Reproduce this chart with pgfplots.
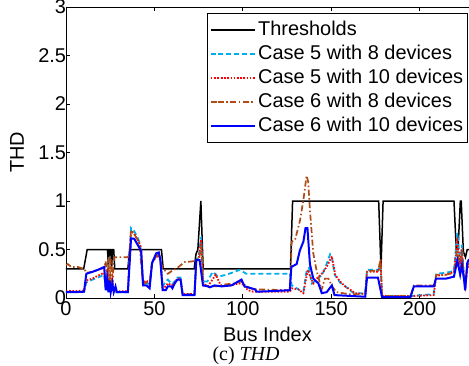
\documentclass[border=0pt]{standalone}
\usepackage{pgfplots}
\pgfplotsset{compat=1.18}
\usepackage{fontspec}
\setmainfont{Liberation Sans}
\newfontfamily\timesfont{Liberation Serif}
\definecolor{mybrown}{RGB}{175,75,20}
\begin{document}
\begin{tikzpicture}
\begin{axis}[
  name=ax,
  scale only axis, width=403bp, height=291bp,
  xmin=0, xmax=228, ymin=0, ymax=3,
  axis y line*=left,
  xtick={0,50,100,150,200},
  ytick={0,0.5,1,1.5,2,2.5,3},
  yticklabels={0,0.5,1,1.5,2,2.5,3},
  tick align=inside, major tick length=4bp,
  every tick/.style={black, line width=0.6bp},
  axis line style={line width=0.8bp},
  tick label style={font=\fontsize{20}{24}\selectfont},
  /pgf/number format/assume math mode=true,
  yticklabel style={xshift=3.5bp},
  xlabel={Bus Index}, ylabel={THD},
  label style={font=\fontsize{20}{24}\selectfont},
  xlabel style={at={(axis description cs:0.5,-0.126)}, anchor=center, inner sep=1bp},
  ylabel style={at={(axis description cs:-0.1216,0.5)}, anchor=center},
  legend style={at={(1,1)}, anchor=north east, xshift=-1bp, yshift=-6bp,
    draw=black, line width=0.8bp, fill=white,
    font=\fontsize{20}{24}\selectfont,
    inner xsep=2bp, inner ysep=4.5bp,
    nodes={text height=14bp, text depth=3bp, inner ysep=3.5bp, inner xsep=2.5bp}},
  legend cell align=left,
  legend image code/.code={\path (-7bp,0bp) -- (0bp,0bp); \draw[#1] (0bp,0bp) -- (37bp,0bp);},
]
% Thresholds
\addplot[draw=black, line width=1.5bp] coordinates {
(0,0.3)(10,0.3)(12,0.5)(23.5,0.5)(24,0.3)(24.5,0.5)(25.3,0.5)(25.8,0.3)(26.3,0.5)(27,0.5)(27.6,0.3)
(35,0.3)(36,0.5)(54,0.5)(55,0.3)(72.5,0.3)(73.5,0.45)(74.6,0.5)(76.3,1.0)(77.6,0.3)
(127,0.3)(128.2,1.0)(176.9,1.0)(178.2,0.3)(179.4,1.0)(219.5,1.0)(220.8,0.5)(221.8,0.5)
(223.1,1.0)(223.6,1.0)(224.8,0.48)(226,0.42)(227,0.5)(228,0.5)};
\addlegendentry{Thresholds}
% Case 5 with 8 devices
\addplot[draw=cyan, line width=1.8bp, dash pattern=on 5bp off 3bp] coordinates {
(0,0.06)(10.2,0.065)(11.5,0.16)(15,0.19)(18,0.21)(21.6,0.24)(22.5,0.09)(23.3,0.28)(24,0.07)(24.7,0.22)
(25.3,0.08)(26.2,0.18)(27,0.06)(35,0.06)(35.8,0.36)(36.8,0.72)(38.6,0.69)(40.5,0.62)(42,0.56)
(43.6,0.15)(45.5,0.16)(47.3,0.13)(48.7,0.38)(51,0.43)(52.5,0.45)(53.4,0.4)(54.7,0.12)(56.5,0.17)
(57.6,0.19)(60,0.14)(61.5,0.17)(63,0.21)(64.8,0.21)(66,0.04)(72.7,0.04)(73.7,0.38)(75,0.42)
(76.5,0.63)(77.5,0.17)(80,0.17)(83,0.27)(86,0.22)(90.8,0.24)(98.3,0.29)(102,0.25)(126.7,0.25)
(127.7,0.13)(132.4,0.08)(134.3,0.07)(136.1,0.28)(137.5,0.31)(139,0.15)(141,0.18)(143,0.21)
(145,0.24)(147,0.33)(149.4,0.45)(150.4,0.42)(152,0.24)(155,0.16)(160,0.09)(162.7,0.05)
(169.3,0.05)(170.3,0.29)(176.5,0.29)(178,0.33)(178.8,0.02)(194.9,0.02)(208,0.04)(209.5,0.25)
(215,0.26)(219.5,0.28)(221.4,0.67)(223,0.38)(224,0.55)(225.2,0.2)(226,0.13)(227,0.32)(228,0.36)};
\addlegendentry{Case 5 with 8 devices}
% Case 5 with 10 devices
\addplot[draw=red, line width=1.8bp, dash pattern=on 1.6bp off 1.6bp] coordinates {
(0,0.07)(10.2,0.075)(11.5,0.18)(15,0.2)(18,0.23)(21.6,0.26)(22.5,0.1)(23.3,0.3)(24,0.08)(24.7,0.25)
(25.3,0.1)(26.2,0.2)(27,0.07)(35,0.07)(35.8,0.35)(36.8,0.69)(38.6,0.66)(40.5,0.6)(42,0.55)
(43.6,0.16)(45.5,0.18)(47.3,0.15)(48.7,0.37)(51,0.42)(52.5,0.44)(53.4,0.38)(54.7,0.1)(56.5,0.12)
(57.6,0.15)(60,0.13)(61.5,0.16)(63,0.2)(64.8,0.2)(66,0.04)(72.7,0.04)(73.7,0.37)(75,0.4)
(76.5,0.6)(77.5,0.15)(80.3,0.12)(82.5,0.18)(84.7,0.24)(86.5,0.17)(88,0.12)(93,0.13)(98,0.15)
(100,0.14)(103,0.08)(106,0.065)(126.7,0.065)(127.7,0.1)(131.3,0.09)(134.3,0.05)(136.8,0.29)
(138,0.23)(139.9,0.15)(141.8,0.2)(144.7,0.25)(147.5,0.32)(150.4,0.43)(152.3,0.24)(155,0.17)
(158,0.12)(163.6,0.05)(169.3,0.04)(170.3,0.27)(176.5,0.27)(178,0.35)(178.8,0.02)(194.9,0.02)
(208,0.03)(209.5,0.23)(215,0.24)(219.5,0.27)(221.4,0.57)(223,0.35)(224,0.5)(225.2,0.19)
(226,0.12)(227,0.3)(228,0.35)};
\addlegendentry{Case 5 with 10 devices}
% Case 6 with 8 devices
\addplot[draw=mybrown, line width=1.7bp, dash pattern=on 6bp off 2.5bp on 1.5bp off 2.5bp] coordinates {
(0,0.34)(1,0.35)(3,0.32)(6.6,0.32)(10.4,0.3)(11.5,0.26)(15,0.27)(18,0.29)(21.6,0.31)(22.5,0.38)
(23.3,0.12)(24,0.42)(24.7,0.08)(25.3,0.4)(26.2,0.1)(27,0.38)(27.5,0.42)(35,0.42)(35.8,0.45)
(36.8,0.7)(38.6,0.66)(40.5,0.6)(41.7,0.53)(43.6,0.14)(45.5,0.16)(47.3,0.14)(48.7,0.36)(51,0.43)
(52.5,0.45)(53.4,0.38)(54.7,0.31)(57.6,0.25)(60,0.28)(63,0.31)(67,0.37)(72.7,0.38)(73.7,0.4)
(75.5,0.42)(76.5,0.55)(77.8,0.13)(80,0.12)(85,0.12)(90,0.14)(95,0.15)(99,0.17)(102,0.12)
(106,0.09)(126.7,0.08)(127.7,0.58)(129.6,0.6)(132.4,0.8)(134.3,1.01)(136.1,1.26)(137,1.2)
(138,0.91)(139.9,0.46)(141.7,0.29)(143,0.2)(144.5,0.08)(146.5,0.2)(148.5,0.2)(150.5,0.12)
(153,0.06)(160,0.04)(169.3,0.04)(170.3,0.28)(176.5,0.28)(178,0.4)(178.8,0.02)(194.9,0.02)
(196.8,0.13)(208.1,0.13)(209.5,0.24)(215,0.24)(219.5,0.26)(221.4,0.5)(223,0.3)(224,0.45)
(225.2,0.2)(226,0.14)(227,0.32)(228,0.38)};
\addlegendentry{Case 6 with 8 devices}
% Case 6 with 10 devices
\addplot[draw=blue, line width=2bp] coordinates {
(0,0.06)(5,0.06)(10.2,0.065)(11.5,0.25)(15,0.27)(18,0.29)(21.6,0.32)(22.5,0.08)(23.3,0.2)(24,0.06)
(24.7,0.18)(25.3,0.06)(26.2,0.15)(27,0.06)(28,0.12)(28.8,0.06)(35,0.06)(35.8,0.3)(36.8,0.615)
(38.6,0.61)(40.5,0.55)(42.6,0.48)(43.6,0.13)(45.5,0.13)(47.3,0.1)(48.7,0.36)(51,0.46)(52.5,0.47)
(53.4,0.39)(54.7,0.08)(56.5,0.08)(57.6,0.12)(59.5,0.12)(60.2,0.1)(61.5,0.15)(63,0.19)(64.8,0.19)
(66,0.03)(72.7,0.03)(73.7,0.39)(75.6,0.39)(77.5,0.13)(80.3,0.12)(81.3,0.11)(84,0.13)(87.9,0.12)
(93.6,0.13)(99.3,0.19)(101,0.12)(106.8,0.09)(108,0.065)(115,0.07)(126.6,0.08)(127.5,0.32)
(130.5,0.35)(132.3,0.49)(134.3,0.58)(135.5,0.72)(136.6,0.72)(138,0.35)(139.9,0.2)(142.8,0.15)
(144.7,0.05)(147.5,0.06)(150.4,0.13)(151.9,0.03)(169.3,0.013)(170.3,0.21)(176.5,0.21)
(178.8,0.01)(194.9,0.01)(196.8,0.12)(208.1,0.12)(209.3,0.2)(215,0.2)(219.5,0.22)(221.4,0.39)
(223,0.24)(224,0.34)(225.2,0.19)(225.8,0.08)(227,0.36)(228,0.4)};
\addlegendentry{Case 6 with 10 devices}
\end{axis}
\node[font=\timesfont\fontsize{20}{24}\selectfont, anchor=center, inner sep=1bp] at (180bp,-58bp) {(c) \textit{THD}};
\pgfresetboundingbox
\useasboundingbox (-66bp,-68bp) rectangle (403bp,298bp);
\end{tikzpicture}
\end{document}
